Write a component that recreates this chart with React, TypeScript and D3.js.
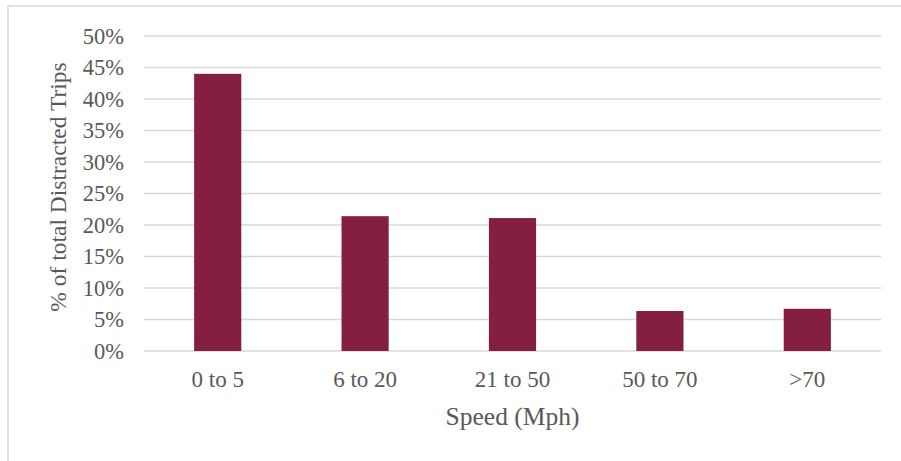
import React from "react";
import * as d3 from "d3";

const categories = ["0 to 5", "6 to 20", "21 to 50", "50 to 70", ">70"];
const values = [44.0, 21.4, 21.1, 6.35, 6.7];
const yTicks = [0, 5, 10, 15, 20, 25, 30, 35, 40, 45, 50];

const W = 901;
const H = 461;
const left = 144;
const right = 881;
const top = 36;
const bottom = 351;
const FONT = "'Liberation Serif', 'Times New Roman', serif";
const TXT = "#595959";

export default function App() {
  const x = d3
    .scaleBand<string>()
    .domain(categories)
    .range([left, right])
    .paddingInner(0.68)
    .paddingOuter(0.34);
  const y = d3.scaleLinear().domain([0, 50]).range([bottom, top]);

  return (
    <svg
      width={W}
      height={H}
      style={{ position: "absolute", left: 0, top: 0, display: "block" }}
    >
      <rect x={0} y={0} width={W} height={H} fill="#fff" />
      <rect
        x={8}
        y={6}
        width={W + 10}
        height={H + 10}
        fill="none"
        stroke="#d9d9d9"
        strokeWidth={1.5}
      />
      {yTicks.map((t) => (
        <g key={t}>
          <line
            x1={left}
            x2={right}
            y1={y(t)}
            y2={y(t)}
            stroke="#d9d9d9"
            strokeWidth={1.5}
          />
          <text
            x={124}
            y={y(t)}
            dy="0.35em"
            textAnchor="end"
            fontFamily={FONT}
            fontSize={22.5}
            fill={TXT}
          >
            {t}%
          </text>
        </g>
      ))}
      {categories.map((c, i) => (
        <g key={c}>
          <rect
            x={x(c)}
            y={y(values[i])}
            width={x.bandwidth()}
            height={y(0) - y(values[i])}
            fill="#841f40"
          />
          <text
            x={(x(c) as number) + x.bandwidth() / 2}
            y={387}
            textAnchor="middle"
            fontFamily={FONT}
            fontSize={23}
            fill={TXT}
          >
            {c}
          </text>
        </g>
      ))}
      <text
        x={(left + right) / 2}
        y={425}
        textAnchor="middle"
        fontFamily={FONT}
        fontSize={25.5}
        fill={TXT}
      >
        Speed (Mph)
      </text>
      <text
        transform={`translate(66, 187) rotate(-90)`}
        textAnchor="middle"
        fontFamily={FONT}
        fontSize={23.5}
        fill={TXT}
      >
        % of total Distracted Trips
      </text>
    </svg>
  );
}
